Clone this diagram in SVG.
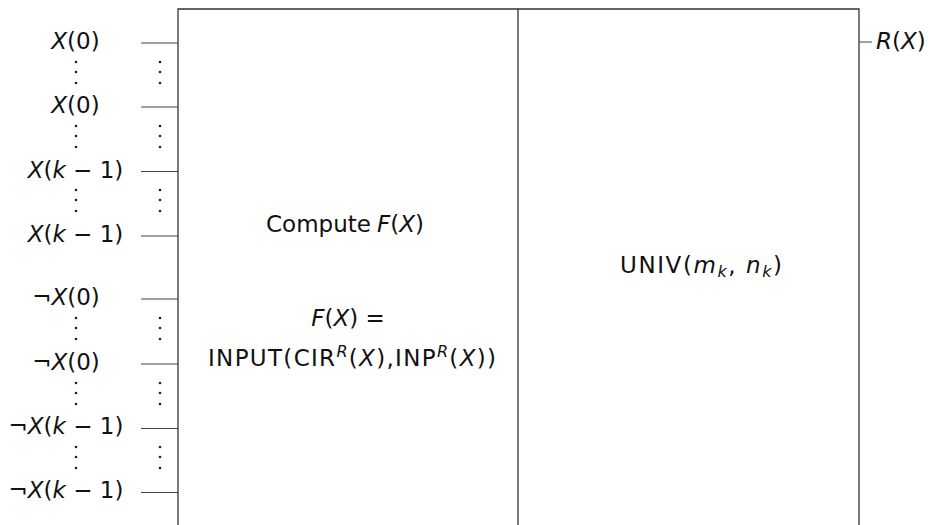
<svg xmlns="http://www.w3.org/2000/svg" width="934" height="525" viewBox="0 0 934 525">
<style>
text{font-family:"DejaVu Sans","Liberation Sans",sans-serif;font-size:23px;fill:#111}
.i{font-style:italic}
.lbl{text-anchor:middle}
.w{stroke:#444;stroke-width:1.2;fill:none}
.box{stroke:#333;stroke-width:1.3;fill:none}
.d{fill:#222}
</style>
<rect width="934" height="525" fill="#fff"/>
<g id="box-compute">
<path class="box" d="M178,526 V9 H518 V526"/>
<text x="266" y="232" font-size="20.5">Compute</text>
<text x="377" y="232"><tspan class="i">F</tspan>(<tspan class="i">X</tspan>)</text>
<text class="lbl" x="348" y="326"><tspan class="i">F</tspan>(<tspan class="i">X</tspan>) =</text>
<text x="208" y="366" textLength="288" lengthAdjust="spacing">INPUT(CIR<tspan class="i" font-size="16" dy="-9">R</tspan><tspan dy="9">(</tspan><tspan class="i">X</tspan>),INP<tspan class="i" font-size="16" dy="-9">R</tspan><tspan dy="9">(</tspan><tspan class="i">X</tspan>))</text>
</g>
<g id="box-univ">
<path class="box" d="M518,9 H859 V526"/>
<text x="620" y="273" textLength="162" lengthAdjust="spacing">UNIV(<tspan class="i">m</tspan><tspan class="i" font-size="16" dy="4">k</tspan><tspan dy="-4">, </tspan><tspan class="i">n</tspan><tspan class="i" font-size="16" dy="4">k</tspan><tspan dy="-4">)</tspan></text>
</g>
<g id="output">
<text x="876" y="49"><tspan class="i">R</tspan>(<tspan class="i">X</tspan>)</text>
</g>
<g id="inputs">
<text class="lbl" x="75.5" y="49"><tspan class="i">X</tspan>(0)</text>
<text class="lbl" x="75.5" y="113"><tspan class="i">X</tspan>(0)</text>
<text class="lbl" x="75.5" y="178"><tspan class="i">X</tspan>(<tspan class="i">k</tspan> − 1)</text>
<text class="lbl" x="75.5" y="242"><tspan class="i">X</tspan>(<tspan class="i">k</tspan> − 1)</text>
<text class="lbl" x="66" y="305">¬<tspan class="i">X</tspan>(0)</text>
<text class="lbl" x="66" y="370">¬<tspan class="i">X</tspan>(0)</text>
<text class="lbl" x="66" y="434">¬<tspan class="i">X</tspan>(<tspan class="i">k</tspan> − 1)</text>
<text class="lbl" x="66" y="498">¬<tspan class="i">X</tspan>(<tspan class="i">k</tspan> − 1)</text>
</g>
<g id="connectors">
<path class="w" d="M141,43H178M141,107H178M141,171.5H178M141,236H178M141,299H178M141,364H178M141,428.5H178M141,492.5H178M859,42H872"/>
</g>
<g id="dots">
<g class="d">
<circle cx="76" cy="62" r="1.3"/><circle cx="76" cy="72" r="1.3"/><circle cx="76" cy="83" r="1.3"/>
<circle cx="160" cy="62" r="1.3"/><circle cx="160" cy="72" r="1.3"/><circle cx="160" cy="83" r="1.3"/>
<circle cx="76" cy="126" r="1.3"/><circle cx="76" cy="136" r="1.3"/><circle cx="76" cy="147" r="1.3"/>
<circle cx="160" cy="126" r="1.3"/><circle cx="160" cy="136" r="1.3"/><circle cx="160" cy="147" r="1.3"/>
<circle cx="76" cy="190" r="1.3"/><circle cx="76" cy="200" r="1.3"/><circle cx="76" cy="211" r="1.3"/>
<circle cx="160" cy="190" r="1.3"/><circle cx="160" cy="200" r="1.3"/><circle cx="160" cy="211" r="1.3"/>
<circle cx="76" cy="318" r="1.3"/><circle cx="76" cy="328" r="1.3"/><circle cx="76" cy="339" r="1.3"/>
<circle cx="160" cy="318" r="1.3"/><circle cx="160" cy="328" r="1.3"/><circle cx="160" cy="339" r="1.3"/>
<circle cx="76" cy="383" r="1.3"/><circle cx="76" cy="393" r="1.3"/><circle cx="76" cy="404" r="1.3"/>
<circle cx="160" cy="383" r="1.3"/><circle cx="160" cy="393" r="1.3"/><circle cx="160" cy="404" r="1.3"/>
<circle cx="76" cy="447" r="1.3"/><circle cx="76" cy="457" r="1.3"/><circle cx="76" cy="468" r="1.3"/>
<circle cx="160" cy="447" r="1.3"/><circle cx="160" cy="457" r="1.3"/><circle cx="160" cy="468" r="1.3"/>
</g>
</g>
</svg>
